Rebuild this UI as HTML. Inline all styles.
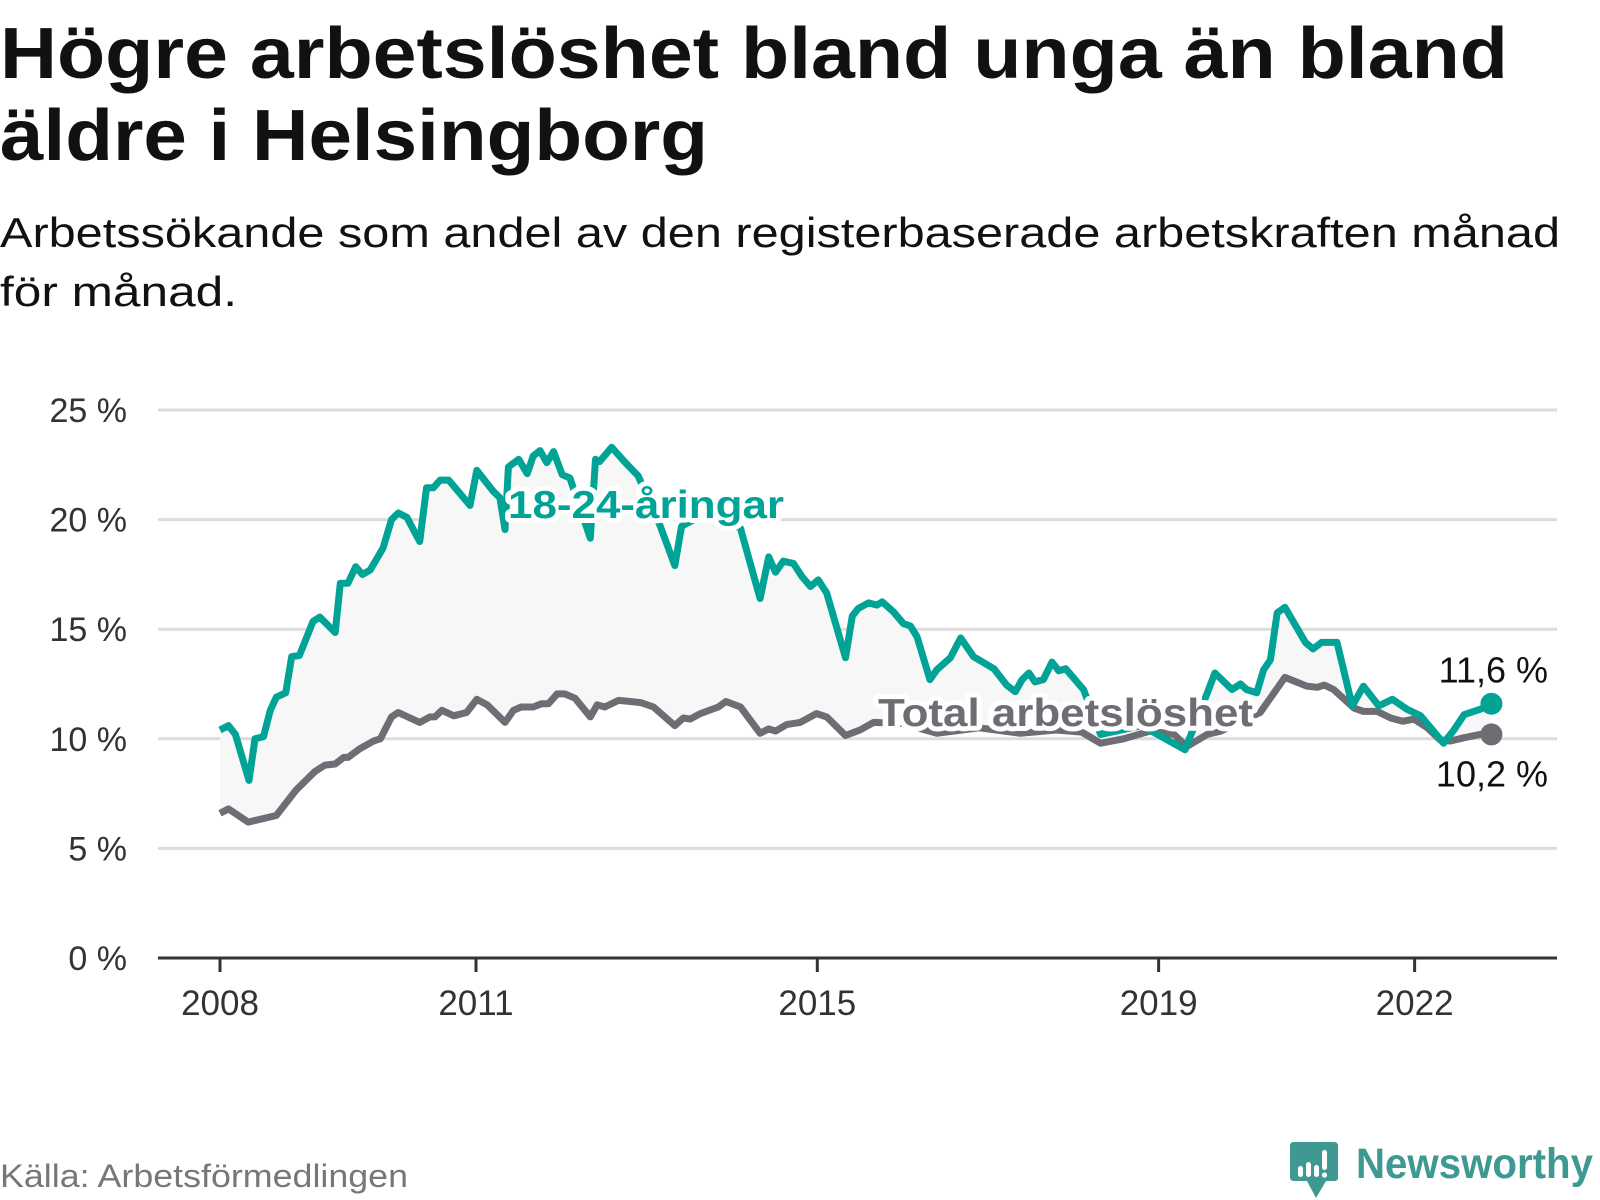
<!DOCTYPE html>
<html><head><meta charset="utf-8"><style>
html,body{margin:0;padding:0;background:#fff;}
svg{display:block;font-family:"Liberation Sans",sans-serif;}
</style></head><body>
<svg id="chart" width="1600" height="1200" viewBox="0 0 1600 1200">
<text x="0" y="78" font-size="72" font-weight="bold" fill="#111" textLength="1508" lengthAdjust="spacingAndGlyphs">Högre arbetslöshet bland unga än bland</text>
<text x="0" y="160" font-size="72" font-weight="bold" fill="#111" textLength="708" lengthAdjust="spacingAndGlyphs">äldre i Helsingborg</text>
<text x="0" y="247" font-size="42" fill="#111" textLength="1560" lengthAdjust="spacingAndGlyphs">Arbetssökande som andel av den registerbaserade arbetskraften månad</text>
<text x="0" y="306" font-size="42" fill="#111" textLength="237" lengthAdjust="spacingAndGlyphs">för månad.</text>
<g id="grid"></g>
<g id="plot"></g>
<g id="axes"></g>
<text x="0" y="1187" font-size="32" fill="#777" textLength="408" lengthAdjust="spacingAndGlyphs">Källa: Arbetsförmedlingen</text>
<g>
<path d="M1294 1142 H1334 Q1338 1142 1338 1146 V1178 Q1338 1181 1334 1181 H1326 L1316 1198 L1307 1181 H1294 Q1290 1181 1290 1177 V1146 Q1290 1142 1294 1142 Z" fill="#3d9991"/>
<rect x="1298" y="1166" width="5" height="11" rx="2.5" fill="#fff"/>
<rect x="1306" y="1162" width="5" height="15" rx="2.5" fill="#fff"/>
<rect x="1314" y="1165" width="5" height="12" rx="2.5" fill="#fff"/>
<rect x="1322" y="1150" width="5" height="20" rx="2.5" fill="#fff"/>
<circle cx="1324.5" cy="1175" r="2.6" fill="#fff"/>
<text x="1356" y="1178" font-size="43" font-weight="bold" fill="#3d9991" textLength="237" lengthAdjust="spacingAndGlyphs">Newsworthy</text>
</g>
</svg>
<script>
const yTicks = [0, 5, 10, 15, 20, 25];
const yTickLabels = ["0 %", "5 %", "10 %", "15 %", "20 %", "25 %"];
const xTicks = [2008, 2011, 2015, 2019, 2022];
const xTickLabels = ["2008", "2011", "2015", "2019", "2022"];
const youthT = [2008.00,2008.10,2008.18,2008.34,2008.41,2008.51,2008.59,2008.66,2008.77,2008.84,2008.93,2009.09,2009.17,2009.35,2009.41,2009.50,2009.59,2009.67,2009.76,2009.91,2010.01,2010.09,2010.19,2010.34,2010.42,2010.50,2010.58,2010.68,2010.93,2011.01,2011.20,2011.28,2011.34,2011.38,2011.50,2011.60,2011.67,2011.75,2011.83,2011.91,2012.01,2012.10,2012.34,2012.40,2012.45,2012.59,2012.75,2012.90,2013.16,2013.33,2013.41,2013.75,2014.10,2014.33,2014.43,2014.51,2014.60,2014.72,2014.82,2014.92,2015.01,2015.11,2015.33,2015.41,2015.48,2015.60,2015.70,2015.76,2015.89,2016.01,2016.09,2016.17,2016.32,2016.40,2016.56,2016.68,2016.83,2017.07,2017.22,2017.32,2017.40,2017.48,2017.55,2017.65,2017.75,2017.83,2017.91,2018.12,2018.32,2018.80,2019.31,2019.57,2019.66,2019.86,2019.96,2020.03,2020.15,2020.23,2020.31,2020.39,2020.48,2020.72,2020.81,2020.91,2021.09,2021.27,2021.40,2021.58,2021.74,2021.91,2022.07,2022.34,2022.46,2022.58,2022.77,2022.90];
const youthV = [10.4,10.6,10.2,8.1,10.0,10.1,11.3,11.9,12.1,13.75,13.8,15.35,15.55,14.85,17.1,17.1,17.85,17.5,17.7,18.7,20.0,20.3,20.1,19.0,21.45,21.45,21.8,21.8,20.65,22.25,21.3,21.0,19.55,22.4,22.75,22.1,22.9,23.15,22.6,23.1,22.05,21.9,19.15,22.75,22.65,23.3,22.6,22.0,19.7,17.9,19.7,20.4,19.6,16.4,18.3,17.6,18.1,18.0,17.4,16.95,17.25,16.65,13.7,15.6,15.95,16.2,16.1,16.25,15.8,15.25,15.15,14.65,12.7,13.15,13.7,14.6,13.75,13.2,12.45,12.15,12.7,13.0,12.6,12.7,13.5,13.1,13.2,12.25,10.2,10.6,9.5,12.1,13.0,12.25,12.5,12.25,12.1,13.15,13.6,15.75,16.0,14.4,14.1,14.4,14.4,11.5,12.4,11.5,11.8,11.35,11.05,9.8,10.4,11.1,11.35,11.6];
const totalT = [2008.00,2008.10,2008.33,2008.66,2008.89,2009.11,2009.23,2009.35,2009.45,2009.50,2009.64,2009.80,2009.88,2010.01,2010.09,2010.34,2010.46,2010.52,2010.60,2010.74,2010.89,2011.01,2011.13,2011.34,2011.44,2011.53,2011.67,2011.77,2011.85,2011.95,2012.04,2012.16,2012.34,2012.42,2012.51,2012.67,2012.81,2012.93,2013.08,2013.33,2013.43,2013.51,2013.63,2013.84,2013.93,2014.10,2014.33,2014.43,2014.51,2014.64,2014.80,2014.99,2015.11,2015.33,2015.50,2015.66,2016.00,2016.40,2016.90,2017.38,2017.80,2018.10,2018.32,2018.59,2018.90,2019.18,2019.33,2019.57,2019.73,2020.19,2020.48,2020.74,2020.86,2020.94,2021.05,2021.29,2021.40,2021.56,2021.72,2021.86,2021.99,2022.15,2022.30,2022.42,2022.58,2022.77,2022.90];
const totalV = [6.6,6.8,6.2,6.5,7.65,8.5,8.8,8.85,9.15,9.15,9.55,9.9,10.0,11.0,11.2,10.75,11.0,11.0,11.3,11.05,11.2,11.8,11.55,10.75,11.3,11.45,11.45,11.6,11.6,12.05,12.05,11.85,11.0,11.55,11.45,11.75,11.7,11.65,11.45,10.6,10.95,10.9,11.15,11.45,11.7,11.45,10.25,10.45,10.35,10.65,10.75,11.15,11.0,10.15,10.4,10.75,10.7,10.25,10.5,10.25,10.4,10.3,9.8,10.0,10.35,10.2,9.65,10.2,10.35,11.2,12.8,12.4,12.35,12.45,12.25,11.4,11.25,11.25,10.95,10.8,10.9,10.5,9.95,9.9,10.05,10.2,10.2];

const NS = "http://www.w3.org/2000/svg";
const X0 = 158, X1 = 1557, Y0 = 958;
function xs(t){ return 220 + (t - 2008) * 85.33; }
function ys(v){ return Y0 - v * 21.92; }
function mk(tag, attrs, parent){ const e = document.createElementNS(NS, tag); for (const k in attrs) e.setAttribute(k, attrs[k]); parent.appendChild(e); return e; }
const grid = document.getElementById('grid'), plot = document.getElementById('plot'), axes = document.getElementById('axes');

yTicks.forEach((v, i) => {
  if (v > 0) {
    const gl = mk('line', {x1: X0, x2: X1, y1: ys(v), y2: ys(v), stroke: '#dcdcdc', 'stroke-width': 3}, grid);
    
    
  }
  const tl = mk('text', {x: 127, y: ys(v) + 12, 'text-anchor': 'end', 'font-size': 34, fill: '#333'}, axes);
  tl.textContent = yTickLabels[i];
  
  
});
const ax = mk('line', {x1: X0, x2: X1, y1: Y0, y2: Y0, stroke: '#333', 'stroke-width': 3}, axes);


xTicks.forEach((t, i) => {
  const tk = mk('line', {x1: xs(t), x2: xs(t), y1: Y0, y2: Y0 + 14, stroke: '#333', 'stroke-width': 3}, axes);
  
  
  const tl = mk('text', {x: xs(t), y: 1015, 'text-anchor': 'middle', 'font-size': 35, fill: '#333'}, axes);
  tl.textContent = xTickLabels[i];
  
  
});

function pts(T, V){ return T.map((t, i) => xs(t).toFixed(1) + ',' + ys(V[i]).toFixed(1)); }
const yp = pts(youthT, youthV), tp = pts(totalT, totalV);
const area = mk('polygon', {points: yp.concat(tp.slice().reverse()).join(' '), fill: '#f7f7f7'}, plot);


const lt = mk('polyline', {points: tp.join(' '), fill: 'none', stroke: '#6e6d73', 'stroke-width': 7, 'stroke-linejoin': 'round'}, plot);


const ly = mk('polyline', {points: yp.join(' '), fill: 'none', stroke: '#00a396', 'stroke-width': 7, 'stroke-linejoin': 'round'}, plot);



const nY = youthT.length - 1, nT = totalT.length - 1;
const dT = mk('circle', {cx: xs(totalT[nT]), cy: ys(totalV[nT]), r: 11, fill: '#6e6d73'}, plot);


const dY = mk('circle', {cx: xs(youthT[nY]), cy: ys(youthV[nY]), r: 11, fill: '#00a396'}, plot);


const eY = mk('text', {x: 1548, y: ys(youthV[nY]) - 21, 'text-anchor': 'end', 'font-size': 36, fill: '#111'}, plot);
eY.textContent = youthV[nY].toFixed(1).replace('.', ',') + ' %';


const eT = mk('text', {x: 1548, y: ys(totalV[nT]) + 52, 'text-anchor': 'end', 'font-size': 36, fill: '#111'}, plot);
eT.textContent = totalV[nT].toFixed(1).replace('.', ',') + ' %';



function seriesLabel(txt, x, y, w, color, name){
  const t = mk('text', {x: x, y: y, 'font-size': 39, 'font-weight': 'bold', fill: color, stroke: '#fff', 'stroke-width': 10, 'stroke-linejoin': 'round', 'paint-order': 'stroke', textLength: w, lengthAdjust: 'spacingAndGlyphs'}, plot);
  t.textContent = txt;
  
  
}
seriesLabel('18-24-åringar', 508, 518, 276, '#00a396', 'youth-series-label');
seriesLabel('Total arbetslöshet', 878, 726, 375, '#6e6d73', 'total-series-label');
</script>
</body></html>
